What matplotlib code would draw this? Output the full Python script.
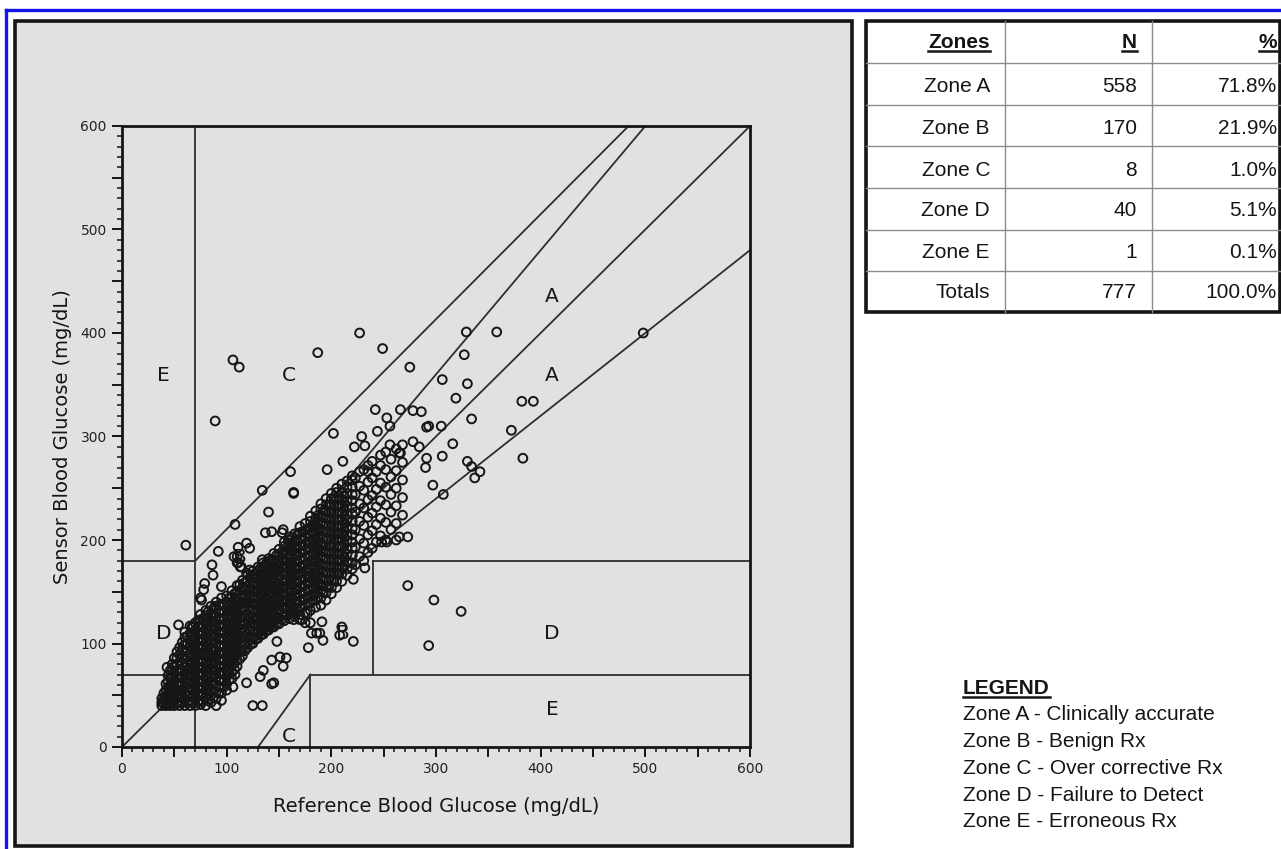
import matplotlib
matplotlib.use("Agg")
import matplotlib.pyplot as plt
from matplotlib.lines import Line2D
from matplotlib.patches import Rectangle
from matplotlib.ticker import MultipleLocator, FuncFormatter
from matplotlib.transforms import IdentityTransform

# ---- summary table ----
zones = ["Zone A", "Zone B", "Zone C", "Zone D", "Zone E", "Totals"]
zone_n = [558, 170, 8, 40, 1, 777]
zone_pct = ["71.8%", "21.9%", "1.0%", "5.1%", "0.1%", "100.0%"]

legend_items = ["Zone A - Clinically accurate",
                "Zone B - Benign Rx",
                "Zone C - Over corrective Rx",
                "Zone D - Failure to Detect",
                "Zone E - Erroneous Rx"]

# ---- grid boundaries (reference, sensor) ----
edge_x = [[0, 600], [70, 70], [0, 70], [0, 70], [70, 484], [175 / 3, 500],
          [70, 600], [130, 180], [180, 180], [180, 600], [240, 240], [240, 600]]
edge_y = [[0, 600], [0, 600], [180, 180], [70, 70], [180, 600], [70, 600],
          [56, 480], [0, 70], [0, 70], [70, 70], [70, 180], [180, 180]]

zone_tags = ["E", "C", "A", "A", "D", "B", "B", "D", "E", "C"]
tag_x = [40, 159, 411, 411, 40, 113, 211, 411, 411, 159]
tag_y = [359, 359, 435, 359, 110, 183, 110, 110, 36, 10]

# ---- readings away from the main band ----
out_ref = [61, 89, 106, 112, 187, 227, 249, 275, 329, 358, 327, 306, 330, 319, 334,
           291, 293, 305, 316, 382, 393, 372, 383, 242, 266, 278, 286, 253, 256, 244,
           202, 229, 222, 232, 256, 278, 284, 266, 306, 291, 290, 330, 334, 342, 337,
           297, 307, 211, 196, 161, 164, 235, 498, 273, 298, 324, 293, 265, 273, 134,
           164, 140, 108, 143, 154, 137, 153, 159, 92, 111, 110, 111, 114, 122, 119,
           122, 134, 86, 87, 79, 95, 75, 76, 78, 68, 89, 262, 253, 248, 232, 221,
           177, 175, 191, 186, 210, 221, 208, 54, 67, 43, 46, 125, 134, 143, 119,
           178, 154, 135, 132, 106, 108, 148, 151, 143, 157, 189, 192, 180, 164, 172,
           145, 183, 177, 181, 164, 170, 107, 110, 113, 119, 265]
out_sensor = [195, 315, 374, 367, 381, 400, 385, 367, 401, 401, 379, 355, 351, 337, 317,
              309, 310, 310, 293, 334, 334, 306, 279, 326, 326, 325, 324, 318, 310, 305,
              303, 300, 290, 291, 292, 295, 290, 284, 281, 279, 270, 276, 271, 266, 260,
              253, 244, 276, 268, 266, 246, 266, 400, 156, 142, 131, 98, 203, 203, 248,
              245, 227, 215, 208, 210, 207, 207, 200, 189, 193, 184, 178, 174, 171, 197,
              192, 181, 176, 166, 158, 155, 144, 142, 152, 116, 136, 200, 198, 198, 173, 162,
              129, 120, 121, 110, 116, 102, 108, 118, 116, 77, 50, 40, 40, 61, 62,
              96, 78, 74, 68, 58, 70, 102, 87, 84, 86, 110, 103, 120, 123, 123,
              62, 181, 168, 110, 129, 123, 184, 178, 174, 168, 284]

# ---- main band: reference value, then the sensor readings at it ----
band = """
38: 40 43 47
40: 42 46 52
42: 40 44 49 55 61
44: 41 46 51 57 63 69
46: 40 42 47 53 60 67 74
48: 42 48 54 61 67 74 80
50: 40 45 51 58 64 71 78 86
52.5: 42 47 53 60 66 73 79 86 92
55: 40 43 49 55 62 68 75 82 89 96
57.5: 43 49 55 61 68 74 81 88 94 101
60: 40 46 52 58 65 71 78 85 92 99 106 111
62.5: 43 49 54 61 67 74 80 87 93 100 107
65: 40 44 50 57 63 70 76 83 90 97 103 110 117
67.5: 43 50 56 63 69 76 83 89 96 103 110 116
70: 40 47 53 60 66 73 80 86 93 100 106 113 120
72.5: 44 50 56 63 69 76 82 89 96 102 109 116 122
75: 41 45 51 58 64 71 77 84 91 97 104 110 117 123 128
77.5: 44 51 58 64 71 77 84 91 97 104 111 118 124
80: 40 48 55 61 68 74 81 88 94 101 108 114 121 127 132
82.5: 46 52 59 66 72 79 85 92 99 105 112 118 125 131
85: 43 50 56 63 70 76 83 89 96 103 109 116 122 129 136
87.5: 48 54 61 68 74 81 87 94 101 107 114 121 127 134
90: 40 47 53 60 67 73 80 86 93 100 106 113 119 126 133 140
92.5: 52 58 64 71 77 84 90 97 104 110 117 123 130 137
95: 45 52 58 65 72 78 85 91 98 105 111 118 124 131 138 144
97.5: 58 64 71 78 84 91 98 104 111 118 124 131 138
100: 55 61 68 74 81 88 94 101 107 114 120 127 134 140 146
102.5: 65 71 78 84 91 98 104 111 117 124 131 137 144
105: 66 72 79 85 92 99 105 112 118 125 132 138 145 151
107.5: 75 81 88 95 101 108 114 121 128 134 141 148
110: 78 84 91 97 104 110 117 124 130 137 143 150 156
112.5: 85 92 98 105 111 118 125 131 138 144 151 157
115: 88 94 101 107 114 121 127 134 140 147 154 161
117.5: 93 99 106 112 119 126 132 139 146 152 159
120: 96 102 109 115 122 128 135 142 148 155 161 166
122.5: 99 106 112 119 125 132 139 145 152 158 164
125: 100 106 113 119 126 133 139 146 152 159 165 170
127.5: 104 110 117 123 130 137 143 150 156 163 168
130: 105 111 118 124 131 137 144 151 157 164 170 174
132.5: 108 114 121 127 134 140 147 154 160 167 173
135: 109 115 122 128 135 141 148 155 161 168 174 178
137.5: 112 118 125 131 138 144 151 158 164 171 177
140: 113 119 126 132 139 146 152 159 165 172 178 182
142.5: 116 122 129 135 142 149 155 162 168 175 181
145: 116 122 129 136 142 149 155 162 169 175 181 187
147.5: 119 126 132 139 145 152 159 165 172 178 185
150: 119 125 132 139 145 152 158 165 172 178 185 191
152.5: 123 129 136 142 149 155 162 169 175 182 188
155: 122 128 135 141 148 155 161 168 174 181 188 194 198
157.5: 127 133 140 146 153 160 166 173 179 186 193
160: 124 131 137 144 150 157 164 170 177 183 190 197 203
162.5: 130 136 143 150 156 163 169 176 183 189 196 202
165: 126 133 140 146 153 159 166 173 179 186 192 199 206
167.5: 133 139 146 152 159 166 172 179 185 192 199 205
170: 128 135 141 148 155 161 168 174 181 188 194 201 207 213
172.5: 136 142 149 155 162 168 175 182 188 195 201 208
175: 130 137 143 150 157 163 170 176 183 190 196 203 209 216
177.5: 139 145 152 159 165 172 178 185 192 198 205 211
180: 132 139 146 152 159 165 172 179 185 192 198 205 212 218 223
182.5: 142 148 155 162 168 175 181 188 195 201 208 214
185: 135 142 148 155 162 168 175 181 188 195 201 208 214 221 228
187.5: 145 152 158 165 171 178 185 191 198 204 211 218 224
190: 137 144 151 157 164 171 177 184 190 197 204 210 217 223 230 235
192.5: 149 156 162 169 175 182 189 195 202 208 215 222 228
195: 142 149 155 162 168 175 182 188 195 201 208 215 221 228 234 240
197.5: 155 161 168 175 181 188 194 201 208 214 221 227 234
200: 148 154 161 168 174 181 187 194 201 207 214 220 227 234 240 245
202.5: 161 168 174 181 188 194 201 207 214 220 227 234 240
205: 154 160 167 174 180 187 193 200 207 213 220 226 233 240 246 250
207.5: 168 174 181 187 194 201 207 214 220 227 234 240
210: 160 167 173 180 186 193 200 206 213 219 226 233 239 246 254
212.5: 176 183 189 196 203 209 216 223 229 236 242
215: 166 172 179 186 192 199 205 212 219 225 232 238 245 251 257
220: 172 178 185 192 198 205 211 218 225 231 238 244 251 258 262
223: 176 193 210 227 244 260
227: 184 201 218 235 252 266
231: 180 197 214 231 248 268
235: 188 205 222 239 256 272
239: 192 209 226 243 260 276
243: 198 215 232 249 266
247: 204 221 238 255 272 282
252: 200 217 234 251 268 285
257: 210 227 244 261 278
262: 216 233 250 267 288
268: 224 241 258 275 292
"""

band_ref, band_sensor = [], []
for row in band.strip().splitlines():
    x, ys = row.split(":")
    for y in ys.split():
        band_ref.append(float(x))
        band_sensor.append(float(y))

ref = band_ref + out_ref
sensor = band_sensor + out_sensor

table_font = "Liberation Sans"

W, H = 1281, 849
def fx(px):
    return px / W
def fy(py):
    return 1 - py / H

ink = "#151515"
panel_gray = "#e1e1e1"

fig = plt.figure(figsize=(W / 100, H / 100), dpi=100)
fig.patch.set_facecolor("white")

# blue frame on the outside
fig.add_artist(Line2D([fx(6), fx(6)], [fy(10), 0], color="#1414ee", lw=2.4, zorder=5))
fig.add_artist(Line2D([fx(6), 1], [fy(10), fy(10)], color="#1414ee", lw=2.4, zorder=5))

# gray chart panel
fig.add_artist(Rectangle((fx(15), fy(846)), fx(852) - fx(15), fy(21) - fy(846),
                         facecolor=panel_gray, edgecolor=ink, lw=2.6, zorder=-1))

ax = fig.add_axes([fx(122), fy(747), fx(750) - fx(122), fy(126) - fy(747)])
ax.set_facecolor(panel_gray)
ax.set_xlim(0, 600)
ax.set_ylim(0, 600)

for xs, ys in zip(edge_x, edge_y):
    ax.plot(xs, ys, color="#2e2e2e", lw=1.3, zorder=2)

ax.scatter(ref, sensor, s=40, facecolors="none", edgecolors="#161616",
           linewidths=1.4, zorder=3, clip_on=False)

for t, x, y in zip(zone_tags, tag_x, tag_y):
    ax.text(x, y, t, fontsize=14.5, color=ink, ha="center", va="center", zorder=4)

for side in ax.spines.values():
    side.set_linewidth(2.0)
    side.set_color(ink)

ax.xaxis.set_major_locator(MultipleLocator(50))
ax.yaxis.set_major_locator(MultipleLocator(50))
ax.xaxis.set_minor_locator(MultipleLocator(10))
ax.yaxis.set_minor_locator(MultipleLocator(10))
hundreds = FuncFormatter(lambda v, p: f"{int(v)}" if int(v) % 100 == 0 else "")
ax.xaxis.set_major_formatter(hundreds)
ax.yaxis.set_major_formatter(hundreds)
ax.tick_params(which="major", direction="out", length=7, width=1.4, color=ink,
               labelsize=10, labelcolor="#222222", pad=4)
ax.tick_params(which="minor", direction="out", length=3.5, width=1.1, color=ink)

fig.text(fx(436), fy(812), "Reference Blood Glucose (mg/dL)", fontsize=14,
         color=ink, ha="center", va="baseline")
fig.text(fx(63), fy(437), "Sensor Blood Glucose (mg/dL)", fontsize=14,
         color=ink, ha="center", va="center", rotation=90)

# ---- zone table ----
tbl_left, tbl_right, tbl_top, tbl_bottom = 866, 1280, 21, 312
row_lines = [63, 105, 146, 188, 230, 271]
for ry in row_lines:
    fig.add_artist(Line2D([fx(tbl_left), fx(tbl_right)], [fy(ry), fy(ry)],
                          color="#8c8c8c", lw=1.0))
for cx in [1005, 1152]:
    fig.add_artist(Line2D([fx(cx), fx(cx)], [fy(tbl_top), fy(tbl_bottom)],
                          color="#8c8c8c", lw=1.0))
fig.add_artist(Rectangle((fx(tbl_left), fy(tbl_bottom)), fx(tbl_right) - fx(tbl_left),
                         fy(tbl_top) - fy(tbl_bottom), facecolor="none",
                         edgecolor=ink, lw=2.6))

col_right = [990, 1137, 1277]
header_texts = []
for label, cx in zip(["Zones", "N", "%"], col_right):
    header_texts.append(fig.text(fx(cx), fy(42), label, fontsize=15, fontweight="bold",
                                 family=table_font, color=ink, ha="right", va="center"))

row_mid = [87, 128, 170, 211, 252, 292]
for name, n, pct, ry in zip(zones, zone_n, zone_pct, row_mid):
    fig.text(fx(col_right[0]), fy(ry), name, fontsize=15, family=table_font,
             color=ink, ha="right", va="center")
    fig.text(fx(col_right[1]), fy(ry), str(n), fontsize=15, family=table_font,
             color=ink, ha="right", va="center")
    fig.text(fx(col_right[2]), fy(ry), pct, fontsize=15, family=table_font,
             color=ink, ha="right", va="center")

# ---- legend block ----
legend_head = fig.text(fx(963), fy(688), "LEGEND", fontsize=15, fontweight="bold",
                       family=table_font, color=ink, ha="left", va="center")
for i, item in enumerate(legend_items):
    fig.text(fx(963), fy(715 + 26.7 * i), item, fontsize=15, family=table_font,
             color=ink, ha="left", va="center")

# underline the bold headings
fig.canvas.draw()
renderer = fig.canvas.get_renderer()
for t in header_texts + [legend_head]:
    bb = t.get_window_extent(renderer)
    fig.add_artist(Line2D([bb.x0, bb.x1], [bb.y0 + 1, bb.y0 + 1], color=ink, lw=1.8,
                          transform=IdentityTransform()))

fig.savefig("out.png", dpi=100)
